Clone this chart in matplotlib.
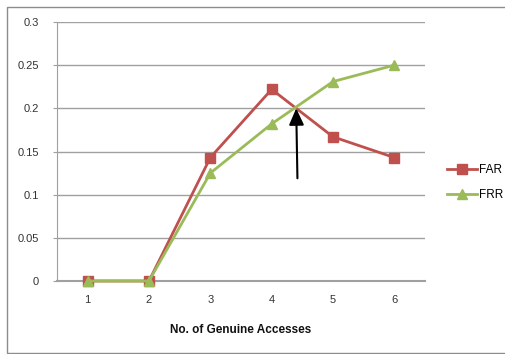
import matplotlib
matplotlib.use("Agg")
import matplotlib.pyplot as plt
from matplotlib.patches import Rectangle

categories = [1, 2, 3, 4, 5, 6]
far = [0.0, 0.0, 0.143, 0.222, 0.167, 0.143]
frr = [0.0, 0.0, 0.125, 0.182, 0.231, 0.25]
yticks = [0, 0.05, 0.1, 0.15, 0.2, 0.25, 0.3]
ytick_labels = ["0", "0.05", "0.1", "0.15", "0.2", "0.25", "0.3"]

W, H = 505, 354
fig = plt.figure(figsize=(W / 100, H / 100), dpi=100)
plt.rcParams['font.family'] = ['Liberation Sans', 'DejaVu Sans']

# outer border
fig.patches.append(Rectangle((7 / W, 1 - 353 / H), 1.2, (353 - 7) / H,
                             transform=fig.transFigure, fill=False,
                             edgecolor='#8c8c8c', linewidth=1.0))

ax = fig.add_axes([57 / W, 1 - 281 / H, (425 - 57) / W, (281 - 22) / H])
ax.set_xlim(0.5, 6.5)
ax.set_ylim(0, 0.3)
ax.set_yticks(yticks)
ax.set_yticklabels(ytick_labels)
ax.set_xticks(categories)
ax.set_xticklabels([str(c) for c in categories])
ax.yaxis.grid(True, color='#a0a0a0', linewidth=1.0)
ax.set_axisbelow(True)
ax.axhline(0, color='#a0a0a0', linewidth=1.5, zorder=0.5, clip_on=False)
for s in ['top', 'right', 'bottom']:
    ax.spines[s].set_visible(False)
ax.spines['left'].set_color('#a0a0a0')
ax.tick_params(axis='y', length=3, color='#a0a0a0', labelsize=8, labelcolor='#333333', pad=10)
ax.tick_params(axis='x', length=0, labelsize=8, labelcolor='#333333', pad=10)

ax.plot(categories, far, color='#c0504d', linewidth=2, marker='s', markersize=7.5,
        label='FAR', clip_on=False)
ax.plot(categories, frr, color='#9bbb59', linewidth=2, marker='^', markersize=7.5,
        label='FRR', clip_on=False)

ax.annotate('', xy=(4.40, 0.2), xytext=(4.42, 0.119),
            arrowprops=dict(arrowstyle='-|>,head_length=1.0,head_width=0.45',
                            color='black', linewidth=1.5, shrinkA=0, shrinkB=0))

ax.set_xlabel('No. of Genuine Accesses', fontsize=8.5, fontweight='bold', labelpad=14,
              color='#111111')

leg = ax.legend(loc='center left', bbox_to_anchor=(1.03, 0.38), frameon=False,
                fontsize=8.5, handlelength=2.6, handletextpad=0.1, labelspacing=1.1,
                borderaxespad=0.5)

fig.savefig('out.png', dpi=100)
